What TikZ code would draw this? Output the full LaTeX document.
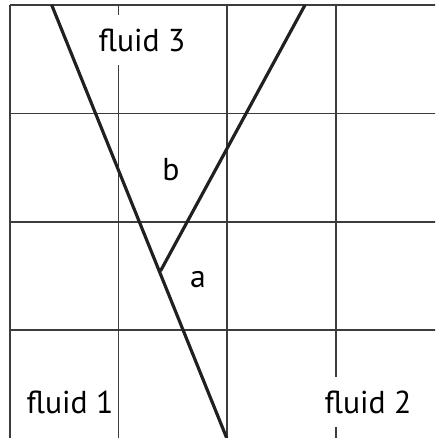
\documentclass[tikz,border=0pt]{standalone}
\usepackage{fontspec}
\setmainfont{PT Sans}
\usepackage{xcolor}
\definecolor{gridGray}{RGB}{60, 60, 60}
\definecolor{lineBlack}{RGB}{35, 31, 32}
\usetikzlibrary{positioning}
\tikzset{
    gridline/.style={gridGray, line width=0.9pt},
    interface/.style={lineBlack, line width=1.9pt},
    fluidlabel/.style={fill=white, inner xsep=1pt, minimum height=30pt, font=\fontsize{19}{22}\selectfont},
    anglelabel/.style={inner sep=0pt, font=\fontsize{19}{22}\selectfont}
}

\begin{document}
\begin{tikzpicture}[x=0.6pt, y=-0.6pt]
    \useasboundingbox (0,0) rectangle (435,438);
    \clip (0,0) rectangle (435,438);
    \fill[white] (0,0) rectangle (435,438);
    % grid
    \foreach \gx in {10, 118.5, 227, 336}
        \draw[gridline] (\gx,5) -- (\gx,440);
    \foreach \gy in {5, 113.5, 222, 330}
        \draw[gridline] (10,\gy) -- (440,\gy);
    % interfaces
    \coordinate (top1) at (51.7,5);
    \coordinate (bot1) at (226.7,438);
    \coordinate (top2) at (305,5);
    \coordinate (junction) at (160.5,271);
    \draw[interface] (top1) -- (bot1);
    \draw[interface] (top2) -- (junction);
    % labels
    \node[fluidlabel] (fluid3) at (142,40) {fluid 3};
    \node[fluidlabel] (fluid1) at (70,402) {fluid 1};
    \node[fluidlabel] (fluid2) at (368,402) {fluid 2};
    \node[anglelabel] (angleb) at (171,170) {b};
    \node[anglelabel] (anglea) at (198,280) {a};
\end{tikzpicture}
\end{document}
